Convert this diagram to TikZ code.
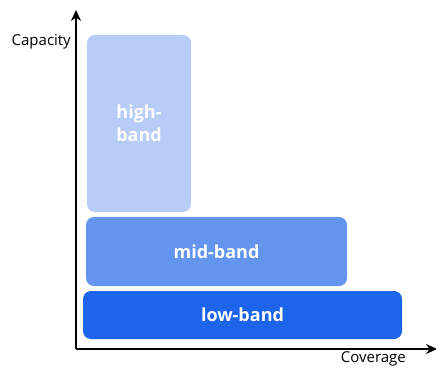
\documentclass[tikz,border=0pt]{standalone}
\usepackage{fontspec}
\setmainfont{Open Sans}
\usetikzlibrary{arrows.meta}
\definecolor{hiC}{HTML}{B7CCF7}
\definecolor{midC}{HTML}{6395EE}
\definecolor{lowC}{HTML}{1C64EA}
\tikzset{
  band/.style={rounded corners=8pt, inner sep=0pt, text=white, font=\fontsize{18}{23}\selectfont\bfseries, align=center},
  axis/.style={line width=1.8pt, -{Stealth[length=11pt,width=10pt]}},
  lbl/.style={font=\fontsize{15}{17}\selectfont, inner sep=0pt}
}
\begin{document}
\begin{tikzpicture}[x=1pt,y=1pt]
\useasboundingbox (0,0) rectangle (436,367);
\coordinate (O) at (76,18);
\coordinate (ytip) at (76,357);
\coordinate (xtip) at (437,18);
\draw[axis] (O) -- (ytip);
\draw[axis] (O) -- (xtip);
\node[band, fill=hiC, minimum width=104pt, minimum height=177pt] (hi) at (139,243.5) {high-\\band};
\node[band, fill=midC, minimum width=261pt, minimum height=69pt] (mid) at (216.5,115.5) {mid-band};
\node[band, fill=lowC, minimum width=319pt, minimum height=48pt] (low) at (242.5,52) {low-band};
\node[lbl, anchor=east] (cap) at (71,325) {Capacity};
\node[lbl, anchor=south east] (cov) at (406,0.5) {Coverage};
\end{tikzpicture}
\end{document}
